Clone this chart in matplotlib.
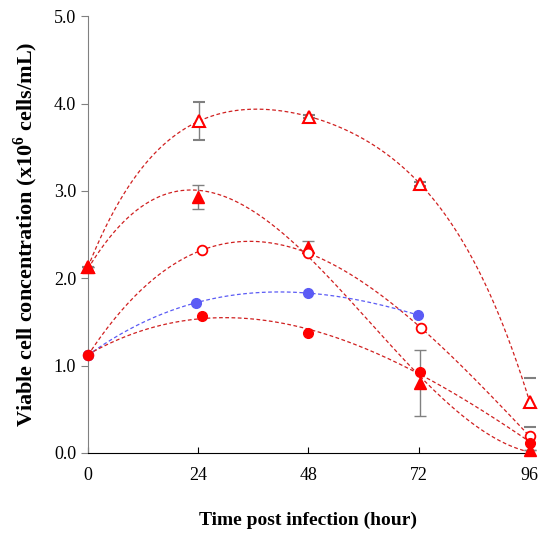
import matplotlib.pyplot as plt
import numpy as np

plt.rcParams['font.family'] = 'Liberation Serif'
plt.rcParams['mathtext.fontset'] = 'custom'
plt.rcParams['mathtext.rm'] = 'Liberation Serif:bold'
plt.rcParams['mathtext.bf'] = 'Liberation Serif:bold'

# ---- data ----
t_open_tri = [0, 24.2, 48.2, 72.3, 96.2]
v_open_tri = [2.13, 3.80, 3.85, 3.08, 0.58]
e_open_tri = [0.0, 0.22, 0.02, 0.02, 0.28]

t_fill_tri = [0, 24.0, 48.0, 72.3, 96.2]
v_fill_tri = [2.13, 2.93, 2.36, 0.80, 0.03]
e_fill_tri = [0.0, 0.14, 0.07, 0.38, 0.0]

t_open_cir = [0, 24.8, 48.0, 72.5, 96.2]
v_open_cir = [1.12, 2.32, 2.29, 1.43, 0.19]

t_blue = [0, 23.5, 48.0, 71.8]
v_blue = [1.12, 1.72, 1.83, 1.58]

t_fill_cir = [0, 24.8, 48.0, 72.3, 96.2]
v_fill_cir = [1.12, 1.57, 1.37, 0.93, 0.12]

RED = '#FF0000'
LINE_RED = '#D02020'
BLUE = '#5B5BF5'


def trend(ax, t, v, color, order=3):
    # excel-style polynomial trendline
    c = np.polyfit(t, v, order)
    xs = np.linspace(0, max(t), 200)
    ax.plot(xs, np.polyval(c, xs), ls=(0, (3, 2)), lw=0.9, color=color, zorder=1)


fig = plt.figure(figsize=(5.45, 5.34), dpi=100)
ax = fig.add_axes([0.1615, 0.1517, 0.809, 0.818])

trend(ax, t_open_tri, v_open_tri, LINE_RED, order=4)
trend(ax, t_fill_tri, v_fill_tri, LINE_RED)
trend(ax, t_open_cir, v_open_cir, LINE_RED)
trend(ax, t_blue, v_blue, BLUE)
trend(ax, t_fill_cir, v_fill_cir, LINE_RED)

eb = dict(ls='none', ecolor='#808080', elinewidth=1, capsize=4, capthick=1)
ax.errorbar(t_open_tri, v_open_tri, yerr=e_open_tri, marker='^', ms=9,
            mfc='white', mec=RED, mew=1.5, zorder=3, **eb)
ax.errorbar(t_fill_tri, v_fill_tri, yerr=e_fill_tri, marker='^', ms=9,
            mfc=RED, mec=RED, zorder=3, **eb)
ax.plot(t_open_cir, v_open_cir, 'o', ms=7, mfc='white', mec=RED, mew=1.3, zorder=4)
ax.plot(t_blue, v_blue, 'o', ms=7, mfc=BLUE, mec=BLUE, zorder=4)
ax.plot(t_fill_cir, v_fill_cir, 'o', ms=7, mfc=RED, mec=RED, zorder=4)

ax.set_xlim(0, 96)
ax.set_ylim(0, 5)
ax.set_xticks([0, 24, 48, 72, 96])
ax.set_yticks(np.arange(0, 5.01, 1.0))
ax.set_yticklabels(['%.1f' % y for y in np.arange(0, 5.01, 1.0)])
ax.tick_params(axis='x', direction='in', length=4, labelsize=13, pad=10)
ax.tick_params(axis='y', direction='out', length=5, labelsize=13, color='#808080')
ax.spines['top'].set_visible(False)
ax.spines['right'].set_visible(False)
ax.spines['left'].set_color('#808080')
ax.spines['bottom'].set_color('black')

ax.set_xlabel('Time post infection (hour)', fontsize=14, fontweight='bold', labelpad=20)
ax.set_ylabel(r'Viable cell concentration (x10$^{6}$ cells/mL)', fontsize=16,
              fontweight='bold', labelpad=10)
for l in ax.lines:
    l.set_clip_on(False)

fig.savefig('out.png', dpi=100)
